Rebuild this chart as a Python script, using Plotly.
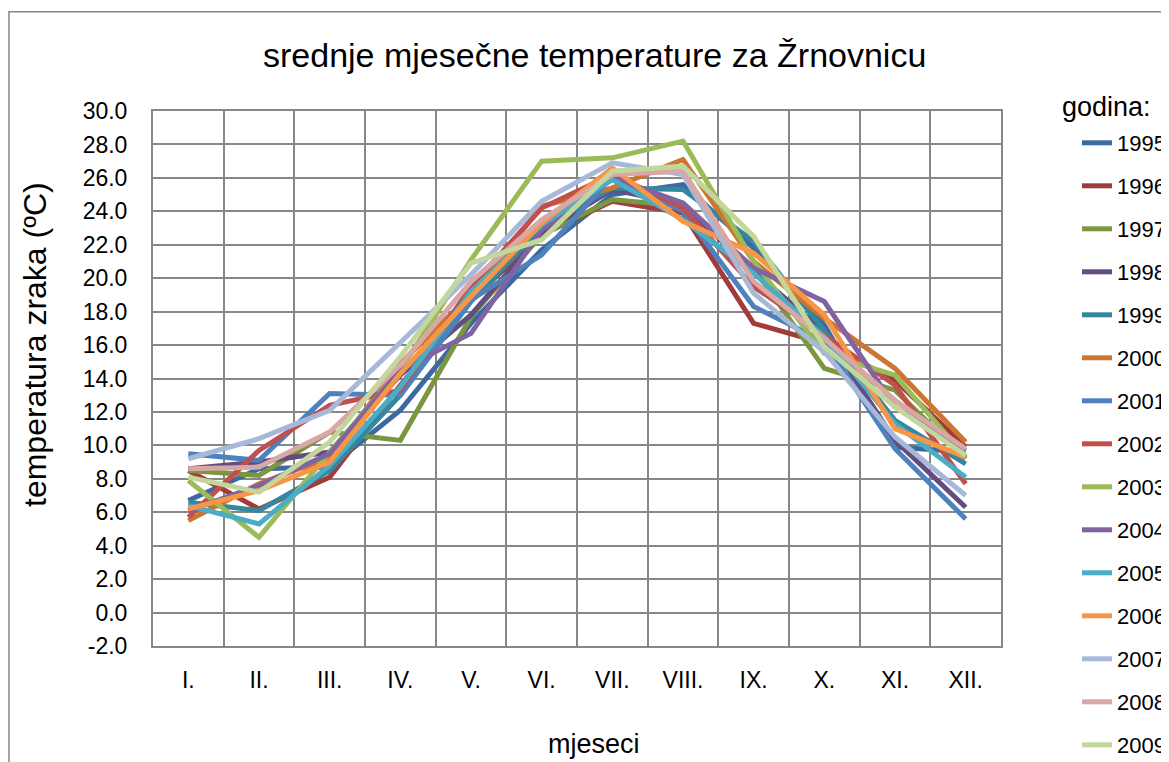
import plotly.graph_objects as go

months = ["I.", "II.", "III.", "IV.", "V.", "VI.", "VII.", "VIII.", "IX.", "X.", "XI.", "XII."]
years = ["1995", "1996", "1997", "1998", "1999", "2000", "2001", "2002",
         "2003", "2004", "2005", "2006", "2007", "2008", "2009"]
y_tick_values = [-2, 0, 2, 4, 6, 8, 10, 12, 14, 16, 18, 20, 22, 24, 26, 28, 30]
y_tick_labels = ["-2.0", "0.0", "2.0", "4.0", "6.0", "8.0", "10.0", "12.0", "14.0",
                 "16.0", "18.0", "20.0", "22.0", "24.0", "26.0", "28.0", "30.0"]

t1995 = [6.7, 8.6, 8.7, 12.1, 17.3, 21.7, 25.0, 25.6, 21.8, 17.2, 9.9, 9.6]
t1996 = [8.5, 6.2, 8.1, 13.6, 18.7, 22.6, 24.6, 23.9, 17.3, 16.1, 13.9, 9.9]
t1997 = [8.5, 8.2, 10.8, 10.3, 17.7, 22.6, 24.7, 24.3, 20.6, 14.6, 13.3, 9.2]
t1998 = [8.6, 9.0, 9.6, 14.2, 17.8, 22.7, 25.3, 24.4, 20.4, 16.8, 10.3, 6.3]
t1999 = [6.6, 6.1, 8.5, 13.0, 18.6, 23.0, 25.4, 25.3, 22.2, 16.8, 11.5, 8.9]
t2000 = [5.5, 7.7, 9.3, 14.9, 19.0, 24.3, 25.4, 27.1, 21.0, 17.6, 14.6, 10.2]
t2001 = [9.5, 9.1, 13.1, 13.0, 18.7, 21.4, 26.1, 24.0, 18.3, 16.2, 9.8, 5.6]
t2002 = [5.7, 9.7, 12.4, 13.3, 19.5, 24.2, 26.2, 24.2, 19.5, 16.6, 13.6, 7.7]
t2003 = [7.9, 4.5, 9.6, 14.5, 21.1, 27.0, 27.2, 28.2, 21.0, 15.5, 14.2, 9.3]
t2004 = [6.1, 7.6, 9.5, 14.5, 16.7, 22.9, 26.0, 24.5, 20.6, 18.6, 12.3, 9.7]
t2005 = [6.4, 5.3, 8.8, 13.5, 19.2, 23.2, 25.9, 23.5, 20.3, 16.5, 11.3, 8.1]
t2006 = [6.2, 7.3, 9.0, 14.3, 18.9, 23.3, 26.6, 23.4, 21.5, 17.8, 11.0, 9.3]
t2007 = [9.2, 10.4, 12.1, 16.1, 20.2, 24.6, 26.9, 26.2, 19.1, 15.6, 10.5, 7.0]
t2008 = [8.6, 8.7, 10.8, 14.8, 19.8, 23.5, 26.2, 26.4, 19.8, 16.4, 12.7, 9.8]
t2009 = [8.1, 7.2, 10.2, 15.3, 20.9, 22.3, 26.4, 26.7, 22.5, 15.9, 12.3, 9.4]

data = [t1995, t1996, t1997, t1998, t1999, t2000, t2001, t2002,
        t2003, t2004, t2005, t2006, t2007, t2008, t2009]
colors = ["#3C6AA0", "#A03D3A", "#7A963F", "#634C80", "#35879F", "#CB7631",
          "#4F81BD", "#C0504D", "#9BBB59", "#8064A2", "#4BACC6", "#F79646",
          "#A7B9D9", "#D9A7A6", "#C3D69B"]

FONT = "Liberation Sans, Arial, sans-serif"
GRID = "#878787"

fig = go.Figure()
for name, vals, col in zip(years, data, colors):
    fig.add_trace(go.Scatter(x=months, y=vals, mode="lines", name=name,
                             legendgroup=name,
                             line=dict(color=col, width=5)))

# the page body adds an 8px offset; positions below are screen positions
OFF = 8
W, H = 1169, 762
L, R, T, B = 153, 1001, 111, 646
pw, ph = R - L, B - T

def px(x):
    return (x - L) / pw

def py(y):
    return (B - y) / ph

fig.update_layout(
    width=W, height=H,
    margin=dict(l=L - OFF, r=W - (R - OFF), t=T - OFF, b=H - (B - OFF),
                autoexpand=False),
    paper_bgcolor="white", plot_bgcolor="white",
    font=dict(family=FONT, color="black", size=23),
    title=dict(text="srednje mjesečne temperature za Žrnovnicu",
               x=(263 - OFF) / W, xanchor="left", y=1 - (55 - OFF) / H,
               yanchor="middle",
               font=dict(family=FONT, size=34, color="black")),
    showlegend=True,
    legend=dict(x=px(1077), y=py(122), xanchor="left", yanchor="top",
                font=dict(family=FONT, size=22, color="black"),
                tracegroupgap=11.4, bgcolor="rgba(0,0,0,0)", itemwidth=30,
                maxheight=1000),
    xaxis=dict(type="category", range=[-0.5, 11.5], tickson="boundaries",
               showgrid=True, gridcolor=GRID, gridwidth=2, showline=True,
               linecolor=GRID, linewidth=2, mirror=True, ticks="",
               tickfont=dict(family=FONT, size=23), ticklabelstandoff=12),
    yaxis=dict(range=[-2, 30], tickvals=y_tick_values, ticktext=y_tick_labels,
               showgrid=True, gridcolor=GRID, gridwidth=2, showline=True,
               linecolor=GRID, linewidth=2, mirror=True, ticks="",
               zeroline=False, tickfont=dict(family=FONT, size=23),
               ticklabelstandoff=19),
    shapes=[dict(type="rect", xref="paper", yref="paper",
                 x0=px(9), x1=px(1300), y0=py(11.7), y1=py(900),
                 line=dict(color="#868686", width=1.5), layer="below")],
    annotations=[
        dict(text="temperatura zraka (ºC)", xref="paper", yref="paper",
             x=px(35), y=py(345), xanchor="center", yanchor="middle",
             textangle=-90, showarrow=False, font=dict(family=FONT, size=32)),
        dict(text="mjeseci", xref="paper", yref="paper",
             x=px(594), y=py(744), xanchor="center", yanchor="middle",
             showarrow=False, font=dict(family=FONT, size=27)),
        dict(text="godina:", xref="paper", yref="paper",
             x=px(1060), y=py(107), xanchor="left", yanchor="middle",
             showarrow=False, font=dict(family=FONT, size=27)),
    ],
)

fig.write_html("out.html")
